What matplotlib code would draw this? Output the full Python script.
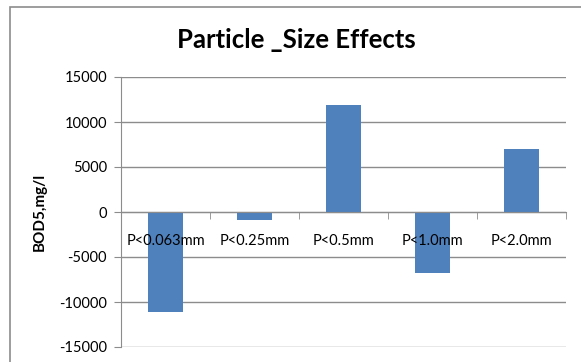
import matplotlib
matplotlib.use("Agg")
import matplotlib.pyplot as plt
from matplotlib.patches import Rectangle

# data
categories = ["P<0.063mm", "P<0.25mm", "P<0.5mm", "P<1.0mm", "P<2.0mm"]
bod5_values = [-11100, -900, 11900, -6750, 7000]
y_ticks = [-15000, -10000, -5000, 0, 5000, 10000, 15000]

BAR_COLOR = "#4F81BD"
GRID_COLOR = "#8C8C8C"
FONT = ["Lato", "DejaVu Sans"]

plt.rcParams["font.family"] = FONT

W, H = 581, 362
fig = plt.figure(figsize=(W / 100, H / 100), dpi=100)

# chart frame (runs off the right and bottom edge like the source)
fig.patches.append(Rectangle((10 / W, -0.1), 1.2, 1 - 7 / H + 0.1,
                             transform=fig.transFigure, fill=False,
                             edgecolor="#8C8C8C", linewidth=1.2))

ax = fig.add_axes([121 / W, (H - 347) / H, (566 - 121) / W, (347 - 77) / H])

# gridlines behind the bars, axis (and its labels) above them
for t in y_ticks:
    ax.axhline(t, color=GRID_COLOR, linewidth=1.0, zorder=0)

x = list(range(len(categories)))
ax.bar(x, bod5_values, width=0.4, color=BAR_COLOR, zorder=1)

ax.set_xlim(-0.5, len(categories) - 0.5)
ax.set_ylim(y_ticks[0], y_ticks[-1])
ax.set_yticks(y_ticks)
ax.set_yticklabels([str(t) for t in y_ticks], fontsize=10.5)
ax.set_axisbelow(False)

for side in ("top", "right"):
    ax.spines[side].set_visible(False)
ax.spines["left"].set_color(GRID_COLOR)
ax.spines["bottom"].set_color(GRID_COLOR)
ax.spines["bottom"].set_position(("data", 0))

ax.tick_params(axis="y", length=5, color=GRID_COLOR, pad=5, labelcolor="black")

# category labels sit under the zero line, tick marks between categories
ax.set_xticks(x)
ax.set_xticklabels(categories, fontsize=10.5)
ax.tick_params(axis="x", which="major", length=0, pad=16)
ax.set_xticks([i - 0.5 for i in range(len(categories) + 1)], minor=True)
ax.tick_params(axis="x", which="minor", length=5, color=GRID_COLOR)

ax.set_ylabel("BOD5,mg/l", fontsize=11, fontweight="bold", labelpad=9)

fig.text(296 / W, 1 - 40 / H, "Particle _Size Effects", ha="center", va="center",
         fontsize=18.5, fontweight="bold")

fig.savefig("out.png", dpi=100)
